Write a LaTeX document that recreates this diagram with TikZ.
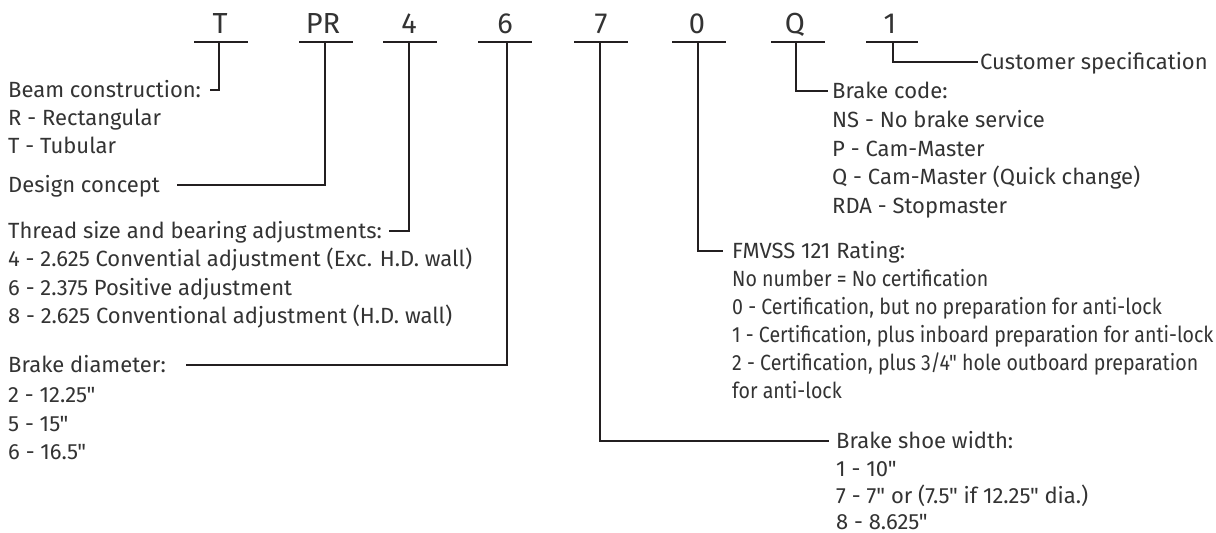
\documentclass[tikz,border=0pt]{standalone}
\usepackage{fontspec}
\setmainfont{Fira Sans}
\newfontfamily\basefont{Fira Sans}
\newfontfamily\condfont{Fira Sans}[FakeStretch=0.89]
\definecolor{ink}{HTML}{231F20}
\definecolor{txt}{HTML}{333333}
\tikzset{
  bar/.style={draw=ink, line width=2pt},
  conn/.style={draw=ink, line width=2pt},
  code/.style={font=\fontsize{29}{30}\basefont, text=txt, anchor=base, inner sep=0pt},
  ttl/.style={font=\fontsize{22}{26}\basefont, text=txt, anchor=base west, inner sep=0pt, text height=15pt, text depth=0pt},
  item/.style={font=\fontsize{22}{26}\basefont, text=txt, anchor=base west, inner sep=0pt},
  citem/.style={font=\fontsize{22}{26}\condfont, text=txt, anchor=base west, inner sep=0pt},
}
\begin{document}
\begin{tikzpicture}[x=1pt,y=-1pt]
\useasboundingbox (0,0) rectangle (1216,533);
% code letters
\node[code] (cT)  at (220,33) {T};
\node[code] (cPR) at (323,33) {PR};
\node[code] (c4)  at (409,33) {4};
\node[code] (c6)  at (505,33) {6};
\node[code] (c7)  at (601,33) {7};
\node[code] (c0)  at (697,33) {0};
\node[code] (cQ)  at (795,33) {Q};
\node[code] (c1)  at (890,33) {1};
% bars
\draw[bar] (194,42) -- (248,42);
\draw[bar] (299,42) -- (353,42);
\draw[bar] (383,42) -- (437,42);
\draw[bar] (478,42) -- (532,42);
\draw[bar] (574,42) -- (628,42);
\draw[bar] (672,42) -- (726,42);
\draw[bar] (771,42) -- (825,42);
\draw[bar] (866,42) -- (918,42);
\coordinate (bT)  at (219,42);
\coordinate (bPR) at (325,42);
\coordinate (b4)  at (409,42);
\coordinate (b6)  at (507,42);
\coordinate (b7)  at (600,42);
\coordinate (b0)  at (698,42);
\coordinate (bQ)  at (796,42);
\coordinate (b1)  at (893,42);
% left labels
\node[ttl] (beam) at (8,97) {Beam construction:};
\node[item] (beam1) at (8,125) {R - Rectangular};
\node[item] (beam2) at (8,153) {T - Tubular};
\node[ttl] (design) at (8,192.5) {Design concept};
\node[ttl] (thread) at (8,238) {Thread size and bearing adjustments:};
\node[item] (thread1) at (8,266.5) {4 - 2.625 Convential adjustment (Exc. H.D. wall)};
\node[item] (thread2) at (8,295) {6 - 2.375 Positive adjustment};
\node[item] (thread3) at (8,323) {8 - 2.625 Conventional adjustment (H.D. wall)};
\node[ttl] (diam) at (8,372) {Brake diameter:};
\node[item] (diam1) at (8,402) {2 - 12.25"};
\node[item] (diam2) at (8,431) {5 - 15"};
\node[item] (diam3) at (8,459) {6 - 16.5"};
% right labels
\node[ttl] (cust) at (980,69.5) {Customer specification};
\node[ttl] (brake) at (832,98.5) {Brake code:};
\node[item] (brake1) at (832,127.5) {NS - No brake service};
\node[item] (brake2) at (832,156) {P - Cam-Master};
\node[item] (brake3) at (832,184.5) {Q - Cam-Master (Quick change)};
\node[item] (brake4) at (832,213) {RDA - Stopmaster};
\node[ttl] (fmv) at (732,258) {FMVSS 121 Rating:};
\node[citem] (fmv1) at (732,286.5) {No number = No certification};
\node[citem] (fmv2) at (732,314.5) {0 - Certification, but no preparation for anti-lock};
\node[citem] (fmv3) at (732,342.5) {1 - Certification, plus inboard preparation for anti-lock};
\node[citem] (fmv4) at (732,370) {2 - Certification, plus 3/4" hole outboard preparation};
\node[citem] (fmv5) at (732,398) {for anti-lock};
\node[ttl] (shoe) at (836,448.5) {Brake shoe width:};
\node[item] (shoe1) at (836,476) {1 - 10"};
\node[item] (shoe2) at (836,503) {7 - 7" or (7.5" if 12.25" dia.)};
\node[item] (shoe3) at (836,529.5) {8 - 8.625"};
% connectors
\draw[conn, shorten >=9pt] (bT) |- (beam.east);
\draw[conn, shorten >=17pt] (bPR) |- (design.east);
\draw[conn, shorten >=7pt] (b4) |- (thread.east);
\draw[conn, shorten >=20pt] (b6) |- (diam.east);
\draw[conn, shorten >=7pt] (b7) |- (shoe.west);
\draw[conn, shorten >=9pt] (b0) |- (fmv.west);
\draw[conn, shorten >=4pt] (bQ) |- (brake.west);
\draw[conn, shorten >=2pt] (b1) |- (cust.west);
\end{tikzpicture}
\end{document}
